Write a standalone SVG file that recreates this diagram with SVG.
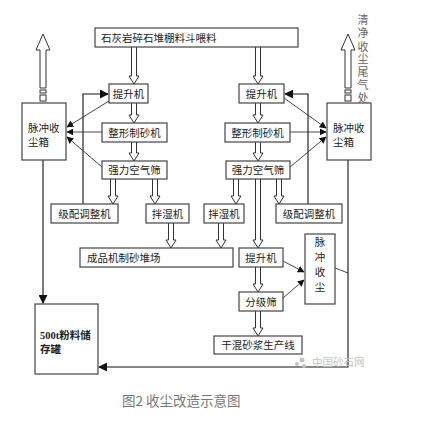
<svg xmlns="http://www.w3.org/2000/svg" width="432" height="425" viewBox="0 0 432 425">
<defs>
<marker id="ah" viewBox="0 0 10 10" refX="9" refY="5" markerWidth="7" markerHeight="7" markerUnits="userSpaceOnUse" orient="auto">
<path d="M0,0 L10,5 L0,10 z" fill="#111"/>
</marker>
<marker id="ahb" viewBox="0 0 10 10" refX="9" refY="5" markerWidth="9" markerHeight="9" markerUnits="userSpaceOnUse" orient="auto">
<path d="M0,0 L10,5 L0,10 z" fill="#111"/>
</marker>
</defs>
<style>
.box{fill:#fff;stroke:#444;stroke-width:1.2}
.t{font-family:"Liberation Serif","Noto Sans CJK SC",serif;font-size:10.5px;fill:#222}
.c{text-anchor:middle}
.ln{fill:none;stroke:#111;stroke-width:1.1}
.thin{fill:none;stroke:#333;stroke-width:0.9}
.ha{fill:#fff;stroke:#333;stroke-width:1}
</style>
<rect width="432" height="425" fill="#fff"/>

<g id="connectors">
<!-- hollow arrows -->
<path class="ha" d="M131.5,47 V76 H129 L134,84 L139,76 H136.5 V47"/>
<path class="ha" d="M255.5,47 V76 H253 L258,84 L263,76 H260.5 V47"/>
<path class="ha" d="M131.5,103 V115 H129 L134,123 L139,115 H136.5 V103"/>
<path class="ha" d="M255.5,103 V115 H253 L258,123 L263,115 H260.5 V103"/>
<path class="ha" d="M131.5,142 V153 H129 L134,161 L139,153 H136.5 V142"/>
<path class="ha" d="M255.5,142 V153 H253 L258,161 L263,153 H260.5 V142"/>
<path class="ha" d="M110.5,179 V196 H108 L113,204 L118,196 H115.5 V179"/>
<path class="ha" d="M152.5,179 V196 H150 L155,204 L160,196 H157.5 V179"/>
<path class="ha" d="M233.5,179 V196 H231 L236,204 L241,196 H238.5 V179"/>
<path class="ha" d="M276.5,179 V196 H274 L279,204 L284,196 H281.5 V179"/>
<path class="ha" d="M255.5,179 V240 H253 L258,248 L263,240 H260.5 V179"/>
<path class="ha" d="M168.5,223 V240 H166 L171,248 L176,240 H173.5 V223"/>
<path class="ha" d="M218.5,223 V240 H216 L221,248 L226,240 H223.5 V223"/>
<path class="ha" d="M255.5,267 V284 H253 L258,292 L263,284 H260.5 V267"/>
<path class="ha" d="M255.5,311 V328 H253 L258,336 L263,328 H260.5 V311"/>
<!-- big exhaust arrows -->
<path class="ha" d="M40,88 V50 H36 L43,34 L50,50 H46 V88 Z"/>
<rect class="ha" x="40" y="90" width="6" height="3"/>
<rect class="ha" x="40" y="95" width="6" height="6"/>
<path class="ha" d="M345,88 V50 H341 L348,34 L355,50 H351 V88 Z"/>
<rect class="ha" x="345" y="90" width="6" height="3"/>
<rect class="ha" x="345" y="95" width="6" height="6"/>
<!-- left dust lines -->
<path class="ln" d="M83,204 V94 H108" marker-end="url(#ahb)"/>
<path class="thin" d="M109,101 L67,127" marker-end="url(#ah)"/>
<path class="thin" d="M102,132 H67" marker-end="url(#ah)"/>
<path class="thin" d="M102,167 L67,137" marker-end="url(#ah)"/>
<!-- right dust lines -->
<path class="ln" d="M308,204 V94 H285" marker-end="url(#ahb)"/>
<path class="thin" d="M284,98 L326,128" marker-end="url(#ah)"/>
<path class="thin" d="M290,132 H326" marker-end="url(#ah)"/>
<path class="thin" d="M290,167 L326,137" marker-end="url(#ah)"/>
<!-- lower dust collector -->
<path class="thin" d="M283,261 L304,272" marker-end="url(#ah)"/>
<path class="thin" d="M283,298 L304,280" marker-end="url(#ah)"/>
<path class="thin" d="M335,268 L348,273"/>
<!-- to storage tank -->
<path class="ln" d="M43,160 V303" marker-end="url(#ahb)"/>
<path class="ln" d="M348,160 V367 H99" marker-end="url(#ahb)"/>
</g>

<g id="feed"><rect class="box" x="95" y="28" width="203" height="19"/><text class="t" x="101" y="41.5">石灰岩碎石堆棚料斗喂料</text></g>
<g id="dustL"><rect class="box" x="22" y="103" width="44" height="57"/><text class="t" x="28" y="132">脉冲收</text><text class="t" x="28" y="146">尘箱</text></g>
<g id="dustR"><rect class="box" x="327" y="103" width="44" height="57"/><text class="t" x="333" y="132">脉冲收</text><text class="t" x="333" y="146">尘箱</text></g>
<g id="liftL"><rect class="box" x="109" y="84" width="39" height="19"/><text class="t c" x="128.5" y="97.5">提升机</text></g>
<g id="liftR"><rect class="box" x="239" y="84" width="45" height="19"/><text class="t c" x="261.5" y="97.5">提升机</text></g>
<g id="shapeL"><rect class="box" x="102" y="123" width="65" height="19"/><text class="t c" x="134.5" y="136.5">整形制砂机</text></g>
<g id="shapeR"><rect class="box" x="225" y="123" width="65" height="19"/><text class="t c" x="257.5" y="136.5">整形制砂机</text></g>
<g id="screenL"><rect class="box" x="102" y="161" width="65" height="18"/><text class="t c" x="134.5" y="174">强力空气筛</text></g>
<g id="screenR"><rect class="box" x="226" y="161" width="64" height="18"/><text class="t c" x="258" y="174">强力空气筛</text></g>
<g id="gradeL"><rect class="box" x="51" y="204" width="67" height="19"/><text class="t c" x="84.5" y="217.5">级配调整机</text></g>
<g id="mixL"><rect class="box" x="146" y="204" width="43" height="19"/><text class="t c" x="167.5" y="217.5">拌湿机</text></g>
<g id="mixR"><rect class="box" x="204" y="204" width="40" height="19"/><text class="t c" x="224" y="217.5">拌湿机</text></g>
<g id="gradeR"><rect class="box" x="276" y="204" width="66" height="19"/><text class="t c" x="309" y="217.5">级配调整机</text></g>
<g id="yard"><rect class="box" x="80" y="248" width="153" height="19"/><text class="t" x="87" y="261.5">成品机制砂堆场</text></g>
<g id="lift2"><rect class="box" x="239" y="248" width="44" height="19"/><text class="t c" x="261" y="261.5">提升机</text></g>
<g id="dust2"><rect class="box" x="305" y="234" width="30" height="70"/><text class="t c" x="320" y="246">脉</text><text class="t c" x="320" y="261">冲</text><text class="t c" x="320" y="276">收</text><text class="t c" x="320" y="291">尘</text></g>
<g id="classify"><rect class="box" x="239" y="292" width="44" height="19"/><text class="t c" x="261" y="305.5">分级筛</text></g>
<g id="mortar"><rect class="box" x="214" y="336" width="88" height="18"/><text class="t c" x="258" y="349">干混砂浆生产线</text></g>
<g id="tank"><rect class="box" x="35" y="304" width="63" height="70"/><text class="t" x="40" y="339" font-weight="bold">500t粉料储</text><text class="t" x="40" y="353" font-weight="bold">存罐</text></g>

<g id="exhaust-label" font-family="Liberation Serif,'Noto Sans CJK SC',serif" font-size="11" fill="#666" text-anchor="middle">
<text x="363" y="24">清</text><text x="363" y="37">净</text><text x="363" y="51">收</text><text x="363" y="63">尘</text><text x="363" y="76">尾</text><text x="363" y="89">气</text><text x="363" y="102">处</text>
</g>
<g id="watermark" fill="#c4c4c4">
<circle cx="302" cy="360" r="2.5"/><circle cx="297" cy="364" r="2"/><circle cx="304" cy="366" r="2"/>
<text x="312" y="366" font-family="'Noto Sans CJK SC',sans-serif" font-size="10.5">中国砂石网</text>
</g>
<text x="122" y="406" font-family="'Noto Sans CJK SC',sans-serif" font-size="13.5" fill="#777">图2 收尘改造示意图</text>
</svg>
